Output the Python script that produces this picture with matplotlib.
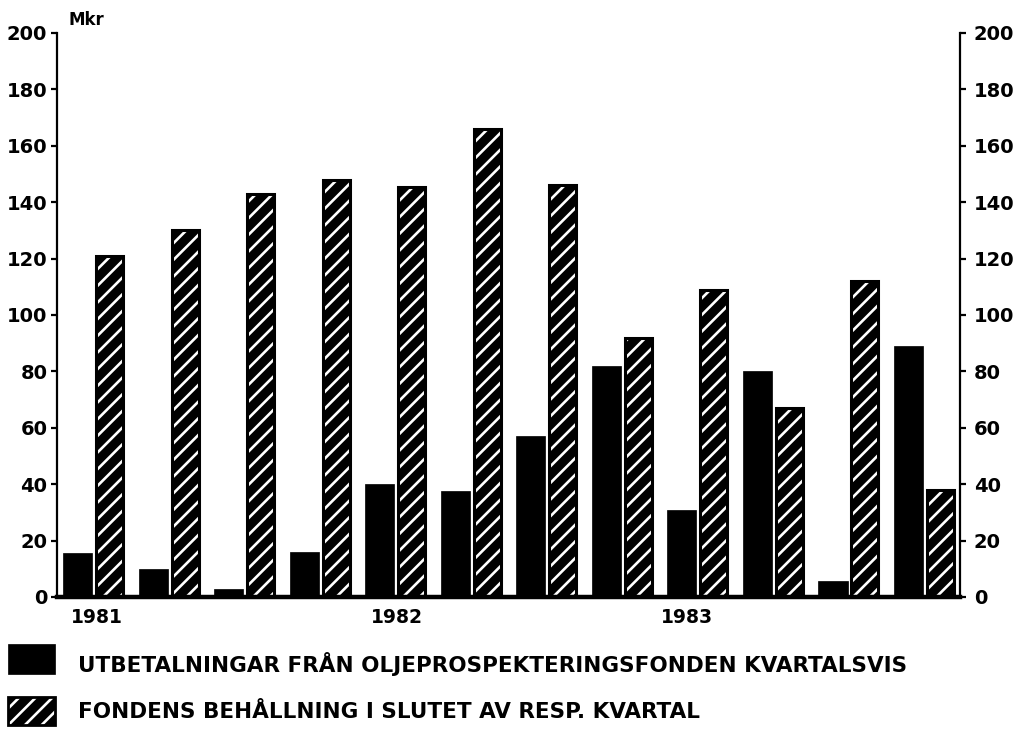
import matplotlib
matplotlib.use("Agg")
import matplotlib.pyplot as plt
from matplotlib.patches import Rectangle
import matplotlib.transforms as mtransforms
import numpy as np

# ---- data (Mkr per quarter, 1981 Q1 .. 1983 Q4) ----
quarters = ["1981 Q1", "1981 Q2", "1981 Q3", "1981 Q4",
            "1982 Q1", "1982 Q2", "1982 Q3", "1982 Q4",
            "1983 Q1", "1983 Q2", "1983 Q3", "1983 Q4"]
utbetalningar = [15.5, 10, 3, 16, 40, 37.5, 57, 82, 31, 80, 5.5, 89]
behallning = [121, 130, 143, 148, 145.5, 166, 146, 92, 109, 67, 112, 38]
year_labels = ["1981", "1982", "1983"]
y_ticks = [0, 20, 40, 60, 80, 100, 120, 140, 160, 180, 200]
legend_labels = ["UTBETALNINGAR FRÅN OLJEPROSPEKTERINGSFONDEN KVARTALSVIS",
                 "FONDENS BEHÅLLNING I SLUTET AV RESP. KVARTAL"]

plt.rcParams['hatch.linewidth'] = 1.9
plt.rcParams['font.family'] = ['DejaVu Sans']

W, H = 1025, 733
fig = plt.figure(figsize=(W / 100, H / 100), dpi=100)
fig.patch.set_facecolor("white")
ax = fig.add_axes([57 / W, 1 - 597 / H, (960 - 57) / W, (597 - 33) / H])

x = np.arange(len(quarters))
bw_black, bw_hatch = 0.39, 0.36
off_black, off_hatch = -0.195, 0.23

# black bars
ax.bar(x + off_black, utbetalningar, width=bw_black, color="black",
       edgecolor="black", linewidth=0.5, zorder=2)
# hatched bars: black fill, white stripes, black border
ax.bar(x + off_hatch, behallning, width=bw_hatch, color="black",
       edgecolor="black", linewidth=0, zorder=2)
ax.bar(x + off_hatch, behallning, width=bw_hatch, facecolor="none",
       edgecolor="white", linewidth=0, hatch="//", zorder=3)
ax.bar(x + off_hatch, behallning, width=bw_hatch, facecolor="none",
       edgecolor="black", linewidth=2.2, zorder=4)

ax.set_xlim(-0.47, len(quarters) - 1 + 0.49)
ax.set_ylim(0, 200)

ax.spines["top"].set_visible(False)
ax.spines["left"].set_linewidth(1.6)
ax.spines["right"].set_linewidth(1.6)
ax.spines["bottom"].set_linewidth(3.2)
ax.spines["bottom"].set_zorder(5)

ax.set_yticks(y_ticks)
ax.set_yticklabels([str(v) for v in y_ticks])
ax.yaxis.set_ticks_position("both")
ax.tick_params(axis="y", which="both", direction="out", length=4, width=1.6,
               labelsize=14, left=True, right=True, labelleft=True,
               labelright=True, pad=3)
for t in ax.yaxis.get_major_ticks():
    t.label1.set_fontweight("bold")
    t.label2.set_fontweight("bold")
    t.label2.set_transform(t.label2.get_transform() +
                           mtransforms.ScaledTranslation(4 / 100, 0,
                                                         fig.dpi_scale_trans))

year_pos = [0.06, 4.03, 7.88]
ax.set_xticks(year_pos)
ax.set_xticklabels(year_labels, fontsize=13.5, fontweight="bold")
ax.tick_params(axis="x", length=0, pad=8)

fig.text(68 / W, 1 - 20 / H, "Mkr", fontsize=12, fontweight="bold",
         va="center", ha="left")

# ---- legend ----
def fig_rect(x0, y0, x1, y1, **kw):
    r = Rectangle((x0 / W, 1 - y1 / H), (x1 - x0) / W, (y1 - y0) / H,
                  transform=fig.transFigure, figure=fig, **kw)
    fig.patches.append(r)
    return r

fig_rect(8, 644, 55, 674, facecolor="black", edgecolor="black", linewidth=0.5)
fig.text(78 / W, 1 - 664 / H, legend_labels[0], fontsize=15.5,
         fontweight="bold", va="center", ha="left")

fig_rect(8, 697, 55, 725, facecolor="black", edgecolor="black", linewidth=0)
fig_rect(8, 697, 55, 725, facecolor="none", edgecolor="white", linewidth=0,
         hatch="//")
fig_rect(8, 697, 55, 725, facecolor="none", edgecolor="black", linewidth=2.0)
fig.text(78 / W, 1 - 712 / H, legend_labels[1], fontsize=15.5,
         fontweight="bold", va="center", ha="left")

fig.savefig("out.png", dpi=100, facecolor="white")
